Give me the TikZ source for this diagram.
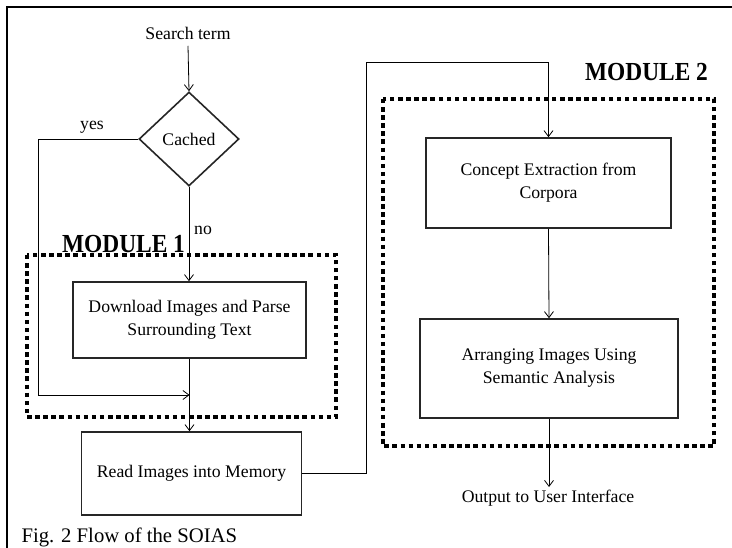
\documentclass[tikz,border=0pt]{standalone}
\usepackage{fontspec}
\setmainfont{Liberation Serif}
\usetikzlibrary{shapes.geometric,arrows.meta}
\begin{document}
\begin{tikzpicture}[x=1pt,y=-1pt,
  every node/.style={font=\fontsize{17.7}{23}\selectfont},
  proc/.style={draw=black!85,line width=1.6pt,align=center,inner sep=0pt},
  modbox/.style={line width=3.2pt,dash pattern=on 4.5pt off 3.6pt},
  modlabel/.style={font=\fontsize{26}{28}\selectfont\bfseries,anchor=base,xscale=0.9},
  conn/.style={line width=0.8pt,-{Straight Barb[length=6pt,width=9pt]}},
  plain/.style={line width=0.8pt}]
\useasboundingbox (0,0) rectangle (732,548);
% frame
\draw[line width=2.6pt] (7,548) -- (7,7) -- (732,7);
% module boxes
\draw[modbox] (27,255) rectangle (336,417);
\draw[modbox] (383,99) rectangle (714,446);
\node[modlabel] (m1) at (123.5,253) {MODULE 1};
\node[modlabel] (m2) at (646.5,81) {MODULE 2};
% nodes
\node (search) at (188,33) {Search term};
\node[draw=black!85,line width=1.6pt,shape=diamond,inner sep=0pt,minimum width=100pt,minimum height=94pt] (cached) at (189,139) {Cached};
\node[proc,minimum width=233pt,minimum height=76pt] (download) at (189.5,320) {Download Images and Parse\\Surrounding Text};
\node[proc,minimum width=220pt,minimum height=83pt] (read) at (191.5,473.5) {Read Images into Memory};
\node[proc,minimum width=245pt,minimum height=90pt] (concept) at (548.5,183) {Concept Extraction from\\Corpora};
\node[proc,minimum width=258pt,minimum height=99pt] (arrange) at (549,368.5) {Arranging Images Using\\Semantic Analysis};
\node[anchor=north] (output) at (548,487) {Output to User Interface};
\node (yes) at (92,127) {yes};
\node (no) at (203,230) {no};
\node[anchor=base west,font=\fontsize{20.7}{24}\selectfont] (cap) at (18,542) {Fig. 2 Flow of the SOIAS};
% connectors
\coordinate (merge) at (download.south |- 0,395);
\coordinate (yl1) at (38,0 |- cached.west);
\coordinate (yl2) at (38,395);
\draw[conn] (search.south) ++(0,3) -- (cached.north);
\draw[conn] (cached.south) -- (cached.south |- download.north);
\draw[conn] (cached.west) -- (yl1) -- (yl2) -- (merge);
\draw[conn] (download.south) -- (download.south |- read.north);
\coordinate (r1) at (366,0 |- read.east);
\coordinate (r2) at (366,62);
\coordinate (r3) at (concept.north |- r2);
\draw[conn] (read.east) -- (r1) -- (r2) -- (r3) -- (concept.north);
\draw[conn] (concept.south) -- (arrange.north);
\draw[conn] (arrange.south) -- (arrange.south |- output.north);
\end{tikzpicture}
\end{document}
